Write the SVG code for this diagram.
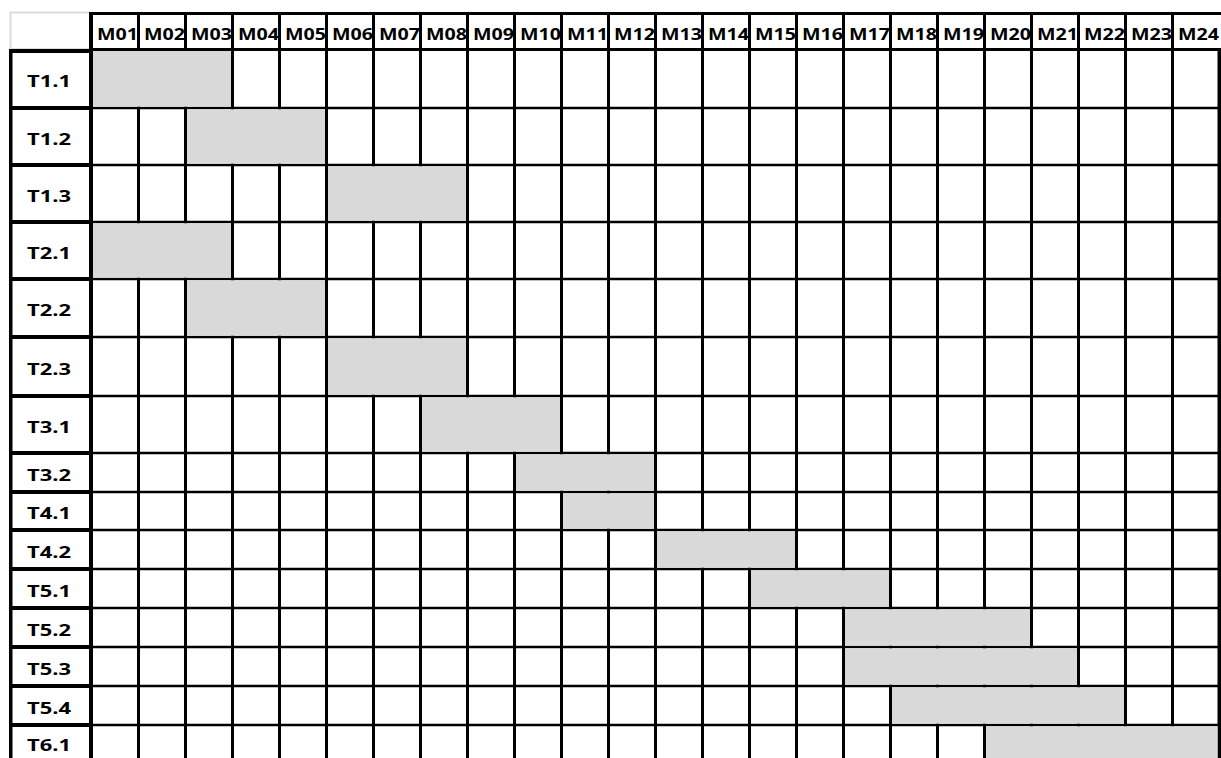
<svg xmlns="http://www.w3.org/2000/svg" width="1221" height="758" viewBox="0 0 1221 758">
<style>
.t{font-family:"Open Sans","Liberation Sans",sans-serif;font-weight:700;font-size:16px;fill:#000}
.bar{fill:#d9d9d9}
.g{stroke:#000;fill:none}
</style>
<rect width="1221" height="758" fill="#fff"/>
<g id="grid">
<rect x="10.5" y="12.5" width="79.5" height="36.5" fill="none" stroke="#dcdcdc" stroke-width="2"/>
<path class="g" stroke-width="3" d="M138.5 12V758M185.5 12V758M232.5 12V758M279.5 12V758M326.5 12V758M373.5 12V758M420.5 12V758M467.5 12V758M514.5 12V758M561.5 12V758M608.5 12V758M655.5 12V758M702.5 12V758M749.5 12V758M796.5 12V758M843.5 12V758M890.5 12V758M937.5 12V758M984.5 12V758M1031.5 12V758M1078.5 12V758M1125.5 12V758M1172.5 12V758"/>
<path class="g" stroke-width="3" d="M89 13.5H1221M89 49.5H1221"/>
<path class="g" stroke-width="2.5" d="M91 108H1221M91 165H1221M91 222H1221M91 279H1221M91 337H1221M91 396H1221M91 453H1221M91 492H1221M91 530H1221M91 569H1221M91 608H1221M91 647H1221M91 686H1221M91 725H1221"/>
<path class="g" stroke-width="4" d="M9 51H92M9 108H92M9 165H92M9 222H92M9 279H92M9 337H92M9 396H92M9 453H92M9 492H92M9 530H92M9 569H92M9 608H92M9 647H92M9 686H92M9 725H92"/>
<path class="g" stroke-width="3.5" d="M10.75 49V758M1219.25 48V758"/>
<path class="g" stroke-width="4" d="M91 12V758"/>
</g>
<g id="header">
<text class="t" x="97" y="39.5" textLength="41" lengthAdjust="spacingAndGlyphs">M01</text>
<text class="t" x="144" y="39.5" textLength="41" lengthAdjust="spacingAndGlyphs">M02</text>
<text class="t" x="191" y="39.5" textLength="41" lengthAdjust="spacingAndGlyphs">M03</text>
<text class="t" x="238" y="39.5" textLength="41" lengthAdjust="spacingAndGlyphs">M04</text>
<text class="t" x="285" y="39.5" textLength="41" lengthAdjust="spacingAndGlyphs">M05</text>
<text class="t" x="332" y="39.5" textLength="41" lengthAdjust="spacingAndGlyphs">M06</text>
<text class="t" x="379" y="39.5" textLength="41" lengthAdjust="spacingAndGlyphs">M07</text>
<text class="t" x="426" y="39.5" textLength="41" lengthAdjust="spacingAndGlyphs">M08</text>
<text class="t" x="473" y="39.5" textLength="41" lengthAdjust="spacingAndGlyphs">M09</text>
<text class="t" x="520" y="39.5" textLength="41" lengthAdjust="spacingAndGlyphs">M10</text>
<text class="t" x="567" y="39.5" textLength="41" lengthAdjust="spacingAndGlyphs">M11</text>
<text class="t" x="614" y="39.5" textLength="41" lengthAdjust="spacingAndGlyphs">M12</text>
<text class="t" x="661" y="39.5" textLength="41" lengthAdjust="spacingAndGlyphs">M13</text>
<text class="t" x="708" y="39.5" textLength="41" lengthAdjust="spacingAndGlyphs">M14</text>
<text class="t" x="755" y="39.5" textLength="41" lengthAdjust="spacingAndGlyphs">M15</text>
<text class="t" x="802" y="39.5" textLength="41" lengthAdjust="spacingAndGlyphs">M16</text>
<text class="t" x="849" y="39.5" textLength="41" lengthAdjust="spacingAndGlyphs">M17</text>
<text class="t" x="896" y="39.5" textLength="41" lengthAdjust="spacingAndGlyphs">M18</text>
<text class="t" x="943" y="39.5" textLength="41" lengthAdjust="spacingAndGlyphs">M19</text>
<text class="t" x="990" y="39.5" textLength="41" lengthAdjust="spacingAndGlyphs">M20</text>
<text class="t" x="1037" y="39.5" textLength="41" lengthAdjust="spacingAndGlyphs">M21</text>
<text class="t" x="1084" y="39.5" textLength="41" lengthAdjust="spacingAndGlyphs">M22</text>
<text class="t" x="1131" y="39.5" textLength="41" lengthAdjust="spacingAndGlyphs">M23</text>
<text class="t" x="1178" y="39.5" textLength="41" lengthAdjust="spacingAndGlyphs">M24</text>
</g>
<g id="row-T1.1"><rect class="bar" x="93" y="51" width="138" height="55.75"/><text class="t" x="27" y="86.75" textLength="44" lengthAdjust="spacingAndGlyphs">T1.1</text></g>
<g id="row-T1.2"><rect class="bar" x="187" y="109.25" width="138" height="54.5"/><text class="t" x="27" y="144.5" textLength="44" lengthAdjust="spacingAndGlyphs">T1.2</text></g>
<g id="row-T1.3"><rect class="bar" x="328" y="166.25" width="138" height="54.5"/><text class="t" x="27" y="201.5" textLength="44" lengthAdjust="spacingAndGlyphs">T1.3</text></g>
<g id="row-T2.1"><rect class="bar" x="93" y="223.25" width="138" height="54.5"/><text class="t" x="27" y="258.5" textLength="44" lengthAdjust="spacingAndGlyphs">T2.1</text></g>
<g id="row-T2.2"><rect class="bar" x="187" y="280.25" width="138" height="55.5"/><text class="t" x="27" y="316" textLength="44" lengthAdjust="spacingAndGlyphs">T2.2</text></g>
<g id="row-T2.3"><rect class="bar" x="328" y="338.25" width="138" height="56.5"/><text class="t" x="27" y="374.5" textLength="44" lengthAdjust="spacingAndGlyphs">T2.3</text></g>
<g id="row-T3.1"><rect class="bar" x="422" y="397.25" width="138" height="54.5"/><text class="t" x="27" y="432.5" textLength="44" lengthAdjust="spacingAndGlyphs">T3.1</text></g>
<g id="row-T3.2"><rect class="bar" x="516" y="454.25" width="138" height="36.5"/><text class="t" x="27" y="480.5" textLength="44" lengthAdjust="spacingAndGlyphs">T3.2</text></g>
<g id="row-T4.1"><rect class="bar" x="563" y="493.25" width="91" height="35.5"/><text class="t" x="27" y="519" textLength="44" lengthAdjust="spacingAndGlyphs">T4.1</text></g>
<g id="row-T4.2"><rect class="bar" x="657" y="531.25" width="138" height="36.5"/><text class="t" x="27" y="557.5" textLength="44" lengthAdjust="spacingAndGlyphs">T4.2</text></g>
<g id="row-T5.1"><rect class="bar" x="751" y="570.25" width="138" height="36.5"/><text class="t" x="27" y="596.5" textLength="44" lengthAdjust="spacingAndGlyphs">T5.1</text></g>
<g id="row-T5.2"><rect class="bar" x="845" y="609.25" width="185" height="36.5"/><text class="t" x="27" y="635.5" textLength="44" lengthAdjust="spacingAndGlyphs">T5.2</text></g>
<g id="row-T5.3"><rect class="bar" x="845" y="648.25" width="232" height="36.5"/><text class="t" x="27" y="674.5" textLength="44" lengthAdjust="spacingAndGlyphs">T5.3</text></g>
<g id="row-T5.4"><rect class="bar" x="892" y="687.25" width="232" height="36.5"/><text class="t" x="27" y="713.5" textLength="44" lengthAdjust="spacingAndGlyphs">T5.4</text></g>
<g id="row-T6.1"><rect class="bar" x="986" y="726.25" width="231.5" height="40"/><text class="t" x="27" y="751" textLength="44" lengthAdjust="spacingAndGlyphs">T6.1</text></g>
</svg>
